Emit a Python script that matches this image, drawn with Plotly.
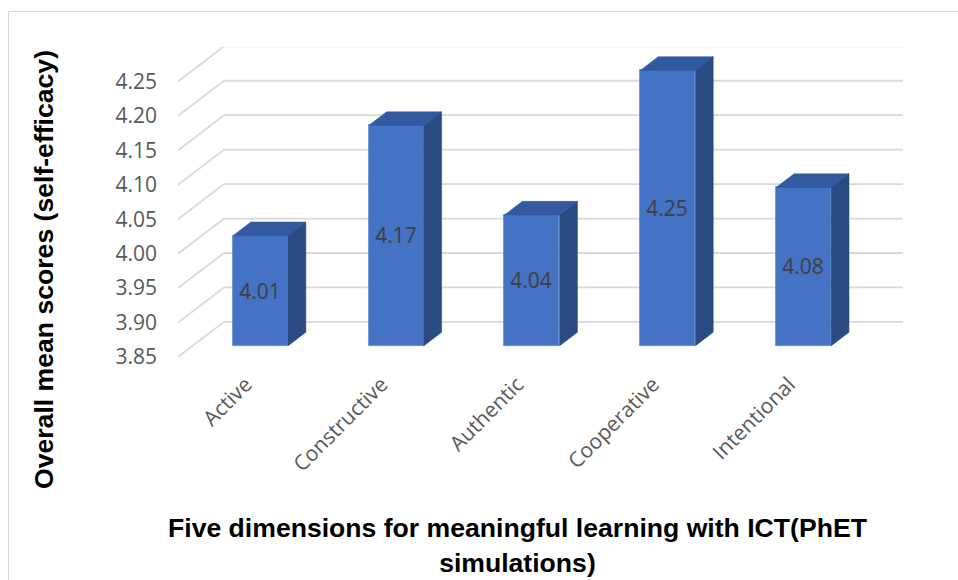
import plotly.graph_objects as go

# ---- data ----
categories = ["Active", "Constructive", "Authentic", "Cooperative", "Intentional"]
scores = [4.01, 4.17, 4.04, 4.25, 4.08]
tick_values = [3.85, 3.90, 3.95, 4.00, 4.05, 4.10, 4.15, 4.20, 4.25]
tick_labels = ["3.85", "3.90", "3.95", "4.00", "4.05", "4.10", "4.15", "4.20", "4.25"]
x_title = "Five dimensions for meaningful learning with ICT(PhET<br>simulations)"
y_title = "Overall mean scores (self-efficacy)"

# ---- layout constants (pixels / 3D look) ----
W, H = 958, 580
ML, MR, MT, MB = 178, 55, 47, 223
PW, PH = W - ML - MR, H - MT - MB
Y_MIN, Y_MAX = 3.85, 4.30
DEPTH_X, DEPTH_Y = 0.339, 0.051      # full depth of the 3D box in axis units
F1, F2 = 0.315, 0.705                 # bar front / back fraction of depth
BAR_W = 0.405
X_MIN, X_MAX = -0.5, len(categories) - 0.5 + DEPTH_X

FRONT = "#4472C4"
TOP = "#3359A0"
SIDE = "#2A4A82"
GRID = "#D9D9D9"


def px_x(p):
    return (p - ML) / PW


def px_y(p):
    return 1 - (p - MT) / PH


xs = list(range(len(categories)))
front_x = [x + F1 * DEPTH_X for x in xs]
base = Y_MIN + F1 * DEPTH_Y
ddx = (F2 - F1) * DEPTH_X
ddy = (F2 - F1) * DEPTH_Y

fig = go.Figure()

# front faces
fig.add_trace(go.Bar(
    x=front_x, y=[v - Y_MIN for v in scores], base=base, width=BAR_W,
    marker=dict(color=FRONT, line=dict(color="#5B86D3", width=0.8)),
    text=[f"{v:.2f}" for v in scores], textposition="inside",
    insidetextanchor="middle", constraintext="none", textangle=0,
    textfont=dict(family="Open Sans", size=21, color="#404040"),
    hoverinfo="skip", showlegend=False,
))

# top & side faces
tx, ty, sx, sy = [], [], [], []
for cx, v in zip(front_x, scores):
    xl, xr = cx - BAR_W / 2, cx + BAR_W / 2
    top = v + F1 * DEPTH_Y
    tx += [xl, xr, xr + ddx, xl + ddx, xl, None]
    ty += [top, top, top + ddy, top + ddy, top, None]
    sx += [xr, xr, xr + ddx, xr + ddx, xr, None]
    sy += [base, top, top + ddy, base + ddy, base, None]

fig.add_trace(go.Scatter(x=tx, y=ty, mode="lines", fill="toself", fillcolor=TOP,
                         line=dict(color=TOP, width=0.5), hoverinfo="skip", showlegend=False))
fig.add_trace(go.Scatter(x=sx, y=sy, mode="lines", fill="toself", fillcolor=SIDE,
                         line=dict(color=SIDE, width=0.5), hoverinfo="skip", showlegend=False))

# gridlines on back and side walls
shapes = []
for v in tick_values:
    shapes.append(dict(type="line", xref="x", yref="y", layer="below",
                       x0=X_MIN, y0=v, x1=X_MIN + DEPTH_X, y1=v + DEPTH_Y,
                       line=dict(color=GRID, width=1.8)))
    shapes.append(dict(type="line", xref="x", yref="y", layer="below",
                       x0=X_MIN + DEPTH_X, y0=v + DEPTH_Y, x1=X_MAX, y1=v + DEPTH_Y,
                       line=dict(color=GRID, width=1.8)))
# chart border
shapes.append(dict(type="rect", xref="paper", yref="paper",
                   x0=px_x(8.5), y0=px_y(620), x1=px_x(1000), y1=px_y(11.5),
                   line=dict(color="#D9D9D9", width=1), layer="below"))

fig.update_layout(
    width=W, height=H,
    margin=dict(l=ML, r=MR, t=MT, b=MB, pad=0),
    paper_bgcolor="white", plot_bgcolor="rgba(0,0,0,0)",
    shapes=shapes,
    bargap=0,
    xaxis=dict(range=[X_MIN, X_MAX], tickvals=xs, ticktext=categories,
               tickangle=-45, showgrid=False, zeroline=False, showline=False,
               ticks="", ticklabelstandoff=10,
               tickfont=dict(family="Open Sans", size=21, color="#595959")),
    yaxis=dict(range=[Y_MIN, Y_MAX], tickvals=tick_values, ticktext=tick_labels,
               showgrid=False, zeroline=False, showline=False, ticks="",
               ticklabelstandoff=20,
               tickfont=dict(family="Open Sans", size=21, color="#595959")),
    annotations=[
        dict(text="<b>" + x_title + "</b>", xref="paper", yref="paper",
             x=px_x(517), y=px_y(545), xanchor="center", yanchor="middle",
             showarrow=False, align="center",
             font=dict(family="Liberation Sans, Arial", size=26.6, color="black")),
        dict(text="<b>" + y_title + "</b>", xref="paper", yref="paper",
             x=px_x(44), y=px_y(270), xanchor="center", yanchor="middle",
             showarrow=False, textangle=-90,
             font=dict(family="Liberation Sans, Arial", size=26.6, color="black")),
    ],
)

fig.write_html("out.html")
